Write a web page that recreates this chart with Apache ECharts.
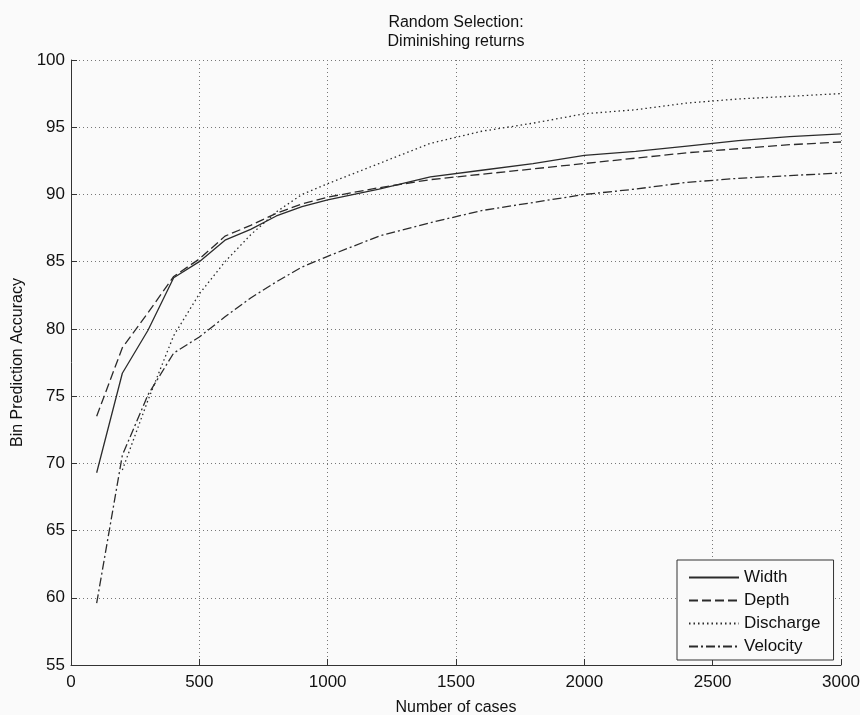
<!DOCTYPE html>
<html>
<head>
<meta charset="utf-8">
<script src="https://cdn.jsdelivr.net/npm/echarts@6/dist/echarts.min.js"></script>
<style>
  html, body { margin: 0; padding: 0; background: #fafafa; }
  #main { width: 860px; height: 715px; }
</style>
</head>
<body>
<div id="main"></div>
<script>
// number of cases (x) and accuracy per variable
const cases     = [100, 200, 300, 400, 500, 600, 700, 800, 900, 1000, 1200, 1400, 1600, 1800, 2000, 2200, 2400, 2600, 2800, 3000];
const width     = [69.3, 76.7, 79.9, 83.8, 85.0, 86.6, 87.4, 88.4, 89.1, 89.6, 90.4, 91.3, 91.8, 92.3, 92.9, 93.2, 93.6, 94.0, 94.3, 94.5];
const depth     = [73.5, 78.6, 81.2, 83.9, 85.2, 86.9, 87.7, 88.6, 89.3, 89.8, 90.5, 91.1, 91.5, 91.9, 92.3, 92.7, 93.1, 93.4, 93.7, 93.9];
const discharge = [null, 69.5, 74.7, 79.5, 82.6, 85.0, 87.0, 88.7, 90.0, 90.8, 92.3, 93.8, 94.7, 95.3, 96.0, 96.3, 96.8, 97.1, 97.3, 97.5];
const velocity  = [59.6, 70.6, 75.1, 78.2, 79.4, 80.9, 82.3, 83.5, 84.6, 85.4, 86.9, 87.9, 88.8, 89.4, 90.0, 90.4, 90.9, 91.2, 91.4, 91.6];

const names = ["Width", "Depth", "Discharge", "Velocity"];
const dashes = ["solid", [9, 4], [1.5, 3], [9, 3, 2, 3]];

function pairs(vals) {
  return cases.map((c, i) => [c, vals[i]]).filter(p => p[1] != null);
}

const font = "Liberation Sans, Arial, Helvetica, sans-serif";
const ink = "#2b2b2b";

let chart = echarts.init(document.getElementById("main"));
chart.setOption({
  backgroundColor: "#fafafa",
  animation: false,
  title: {
    text: "Random Selection:\nDiminishing returns",
    left: 456,
    top: 13,
    textAlign: "center",
    padding: 0,
    textStyle: { fontFamily: font, fontSize: 16, fontWeight: "normal", color: "#111", lineHeight: 19 }
  },
  grid: { left: 71, right: 19, top: 60, bottom: 50, outerBoundsMode: "none" },
  legend: {
    left: 677,
    top: 560,
    orient: "vertical",
    padding: [9, 13, 5, 11],
    itemWidth: 50,
    itemHeight: 14,
    itemGap: 6,
    borderColor: "#333",
    borderWidth: 1,
    backgroundColor: "#fafafa",
    itemStyle: { opacity: 0 },
    textStyle: { fontFamily: font, fontSize: 17, color: "#111" },
    data: names
  },
  xAxis: {
    type: "value",
    min: 0,
    max: 3000,
    interval: 500,
    name: "Number of cases",
    nameLocation: "middle",
    nameGap: 35,
    nameTextStyle: { fontFamily: font, fontSize: 16, color: "#111" },
    axisLine: { lineStyle: { color: "#333", width: 1 } },
    axisTick: { inside: true, length: 6, lineStyle: { color: "#333" } },
    axisLabel: { fontFamily: font, fontSize: 17, color: "#111", margin: 9, formatter: v => String(v) },
    splitLine: { show: true, lineStyle: { color: "#777", type: [1, 3] } }
  },
  yAxis: {
    type: "value",
    min: 55,
    max: 100,
    interval: 5,
    name: "Bin Prediction Accuracy",
    nameLocation: "middle",
    nameGap: 45,
    nameTextStyle: { fontFamily: font, fontSize: 16, color: "#111" },
    axisLine: { show: true, lineStyle: { color: "#333", width: 1 } },
    axisTick: { show: true, inside: true, length: 6, lineStyle: { color: "#333" } },
    axisLabel: { fontFamily: font, fontSize: 17, color: "#111", margin: 6 },
    splitLine: { show: true, lineStyle: { color: "#777", type: [1, 3] } }
  },
  series: [width, depth, discharge, velocity].map((vals, i) => ({
    name: names[i],
    type: "line",
    symbol: "none",
    data: pairs(vals),
    itemStyle: { color: ink },
    lineStyle: { color: ink, width: 1.3, type: dashes[i] }
  }))
});
</script>
</body>
</html>
